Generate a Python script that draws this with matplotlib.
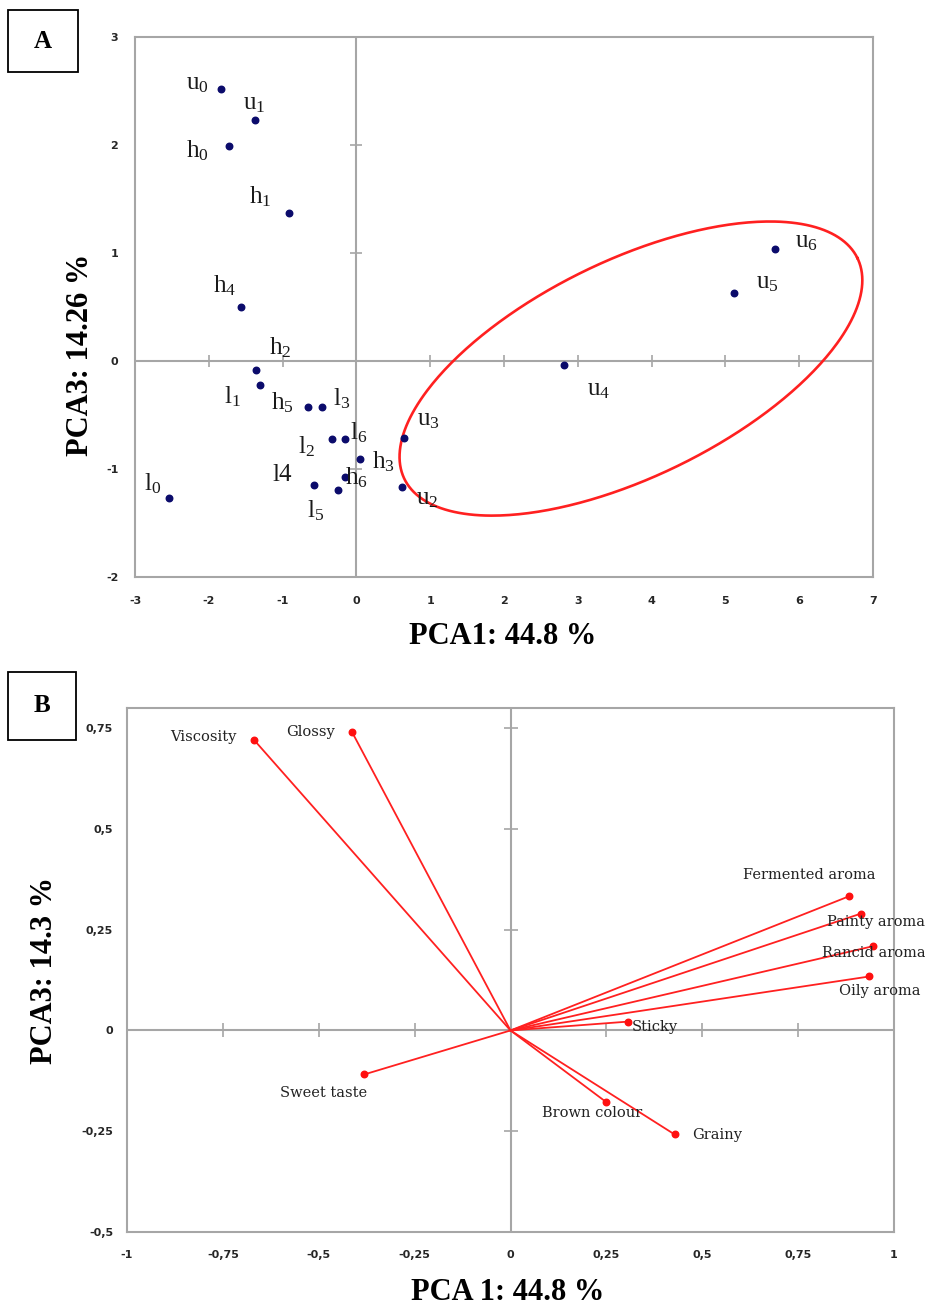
import matplotlib
matplotlib.use('Agg')
import matplotlib.pyplot as plt
import numpy as np
from matplotlib.patches import Rectangle

plt.rcParams['mathtext.fontset'] = 'custom'
plt.rcParams['mathtext.rm'] = 'Liberation Serif'
plt.rcParams['mathtext.it'] = 'Liberation Serif:italic'
plt.rcParams['mathtext.bf'] = 'Liberation Serif:bold'

# ---------------- Panel A data (scores) ----------------
sample_names = ['u0', 'u1', 'h0', 'h1', 'h4', 'h2', 'l1', 'h5', 'l3', 'l2', 'l6',
                'h3', 'h6', 'l4', 'l5', 'l0', 'u3', 'u2', 'u4', 'u5', 'u6']
sample_text = ['u$_0$', 'u$_1$', 'h$_0$', 'h$_1$', 'h$_4$', 'h$_2$', 'l$_1$', 'h$_5$', 'l$_3$',
               'l$_2$', 'l$_6$', 'h$_3$', 'h$_6$', 'l4', 'l$_5$', 'l$_0$', 'u$_3$', 'u$_2$',
               'u$_4$', 'u$_5$', 'u$_6$']
score_pc1 = [-1.84, -1.38, -1.73, -0.92, -1.57, -1.36, -1.30, -0.65, -0.46, -0.33, -0.16,
             0.05, -0.15, -0.58, -0.25, -2.54, 0.65, 0.62, 2.81, 5.12, 5.67]
score_pc3 = [2.52, 2.23, 1.99, 1.37, 0.50, -0.08, -0.22, -0.43, -0.43, -0.72, -0.72,
             -0.91, -1.07, -1.15, -1.19, -1.27, -0.71, -1.17, -0.04, 0.63, 1.04]
a_xticks = [-3, -2, -1, 0, 1, 2, 3, 4, 5, 6, 7]
a_yticks = [-2, -1, 0, 1, 2, 3]

# label offsets in pixels (dx, dy up)
sample_offsets = [(-23, 5), (0, 16), (-31, -5), (-28, 16), (-16, 21), (24, 22), (-28, -12),
                  (-26, 5), (19, 9), (-26, -8), (14, 6), (23, -2), (11, -1), (-31, 10),
                  (-22, -21), (-16, 14), (24, 18), (25, -12), (35, -25), (33, 10), (32, 7)]

# ellipse (center in data units, axes in pixels, angle in degrees)
ell_center = (3.72, -0.07)
ell_a_px, ell_b_px, ell_angle = 252.0, 108.0, 26.0

# ---------------- Panel B data (loadings) ----------------
attr_names = ['Viscosity', 'Glossy', 'Fermented aroma', 'Painty aroma', 'Rancid aroma',
              'Oily aroma', 'Sticky', 'Brown colour', 'Grainy', 'Sweet taste']
load_pc1 = [-0.668, -0.413, 0.883, 0.914, 0.945, 0.936, 0.307, 0.250, 0.428, -0.381]
load_pc3 = [0.720, 0.740, 0.333, 0.290, 0.209, 0.134, 0.022, -0.178, -0.258, -0.109]
b_xticks = [-1, -0.75, -0.5, -0.25, 0, 0.25, 0.5, 0.75, 1]
b_xticklabels = ['-1', '-0,75', '-0,5', '-0,25', '0', '0,25', '0,5', '0,75', '1']
b_yticks = [-0.5, -0.25, 0, 0.25, 0.5, 0.75]
b_yticklabels = ['-0,5', '-0,25', '0', '0,25', '0,5', '0,75']

attr_offsets = [(-51, 3), (-42, 0), (-40, 21), (15, -8), (1, -7), (10, -15), (27, -5),
                (-14, -11), (42, -1), (-41, -19)]

GRAY = '#a6a6a6'
W, H = 925, 1309
fig = plt.figure(figsize=(W / 100, H / 100), dpi=100)


def px_ax(l, t, r, b):
    return fig.add_axes([l / W, 1 - b / H, (r - l) / W, (b - t) / H])


def style_axes(ax, xt, xtl, yt, ytl, xpad, ypad, tick_ms, fs):
    for s in ax.spines.values():
        s.set_color(GRAY)
        s.set_linewidth(1.5)
    ax.axhline(0, color=GRAY, lw=1.5, zorder=1)
    ax.axvline(0, color=GRAY, lw=1.5, zorder=1)
    ax.set_xticks(xt)
    ax.set_xticklabels(xtl)
    ax.set_yticks(yt)
    ax.set_yticklabels(ytl)
    ax.tick_params(axis='x', length=0, pad=xpad)
    ax.tick_params(axis='y', length=0, pad=ypad)
    for lab in ax.get_xticklabels() + ax.get_yticklabels():
        lab.set_fontfamily('DejaVu Sans')
        lab.set_fontweight('bold')
        lab.set_fontsize(fs)
        lab.set_color('#262626')
    ax.plot(xt, np.zeros(len(xt)), ls='none', marker='|', ms=tick_ms, mew=1.2,
            color=GRAY, zorder=1, clip_on=False)
    ax.plot(np.zeros(len(yt)), yt, ls='none', marker='_', ms=tick_ms, mew=1.2,
            color=GRAY, zorder=1, clip_on=False)


# ---------------- Panel A ----------------
axA = px_ax(135, 37, 873, 577)
axA.set_xlim(-3, 7)
axA.set_ylim(-2, 3)
style_axes(axA, a_xticks, [str(v) for v in a_xticks], a_yticks, [str(v) for v in a_yticks],
           14, 12, 9, 8)
axA.scatter(score_pc1, score_pc3, s=22, color='#0b0b6b', zorder=3)
for txt, x, y, (dx, dy) in zip(sample_text, score_pc1, score_pc3, sample_offsets):
    axA.annotate(txt, (x, y), xytext=(dx, dy), textcoords='offset pixels',
                 ha='center', va='center', fontsize=18, family='Liberation Serif',
                 color='#1a1a1a', zorder=4)

sx, sy = 73.8, 108.0
t = np.linspace(0, 2 * np.pi, 400)
th = np.deg2rad(ell_angle)
u = ell_a_px * np.cos(t) * np.cos(th) - ell_b_px * np.sin(t) * np.sin(th)
v = ell_a_px * np.cos(t) * np.sin(th) + ell_b_px * np.sin(t) * np.cos(th)
axA.plot(ell_center[0] + u / sx, ell_center[1] + v / sy, color='#ff2020', lw=1.9, zorder=2)

fig.text(80 / W, 1 - 355 / H, 'PCA3: 14.26 %', rotation=90, ha='center', va='center',
         fontsize=22, fontweight='bold', family='Liberation Serif')
fig.text(503 / W, 1 - 637 / H, 'PCA1: 44.8 %', ha='center', va='center',
         fontsize=22, fontweight='bold', family='Liberation Serif')

# ---------------- Panel B ----------------
axB = px_ax(127, 708, 894, 1232)
axB.set_xlim(-1, 1)
axB.set_ylim(-0.5, 0.8)
style_axes(axB, b_xticks, b_xticklabels, b_yticks, b_yticklabels, 13, 10, 10, 8)
for x, y in zip(load_pc1, load_pc3):
    axB.plot([0, x], [0, y], color='#ff2020', lw=1.3, zorder=2)
axB.scatter(load_pc1, load_pc3, s=22, color='#ff1010', zorder=3)
for name, x, y, (dx, dy) in zip(attr_names, load_pc1, load_pc3, attr_offsets):
    axB.annotate(name, (x, y), xytext=(dx, dy), textcoords='offset pixels',
                 ha='center', va='center', fontsize=10.5, family='DejaVu Serif',
                 color='#222222', zorder=4, annotation_clip=False)

fig.text(45 / W, 1 - 970 / H, 'PCA3: 14.3 %', rotation=90, ha='center', va='center',
         fontsize=22, fontweight='bold', family='Liberation Serif')
fig.text(508 / W, 1 - 1293 / H, 'PCA 1: 44.8 %', ha='center', va='center',
         fontsize=22, fontweight='bold', family='Liberation Serif')

# ---------------- Panel letters ----------------
for letter, (l, t_, r, b) in [('A', (8, 10, 78, 72)), ('B', (8, 672, 76, 740))]:
    fig.patches.append(Rectangle((l / W, 1 - b / H), (r - l) / W, (b - t_) / H,
                                 transform=fig.transFigure, facecolor='white',
                                 edgecolor='black', lw=1.3, zorder=5))
    fig.text((l + r) / 2 / W, 1 - (t_ + b) / 2 / H, letter, ha='center', va='center',
             fontsize=18, fontweight='bold', family='Liberation Serif', zorder=6)

fig.savefig('out.png', dpi=100)
